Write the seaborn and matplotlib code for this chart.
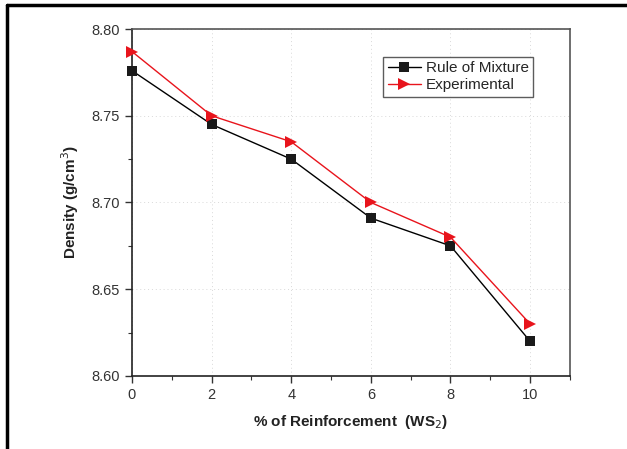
import matplotlib
matplotlib.use("Agg")
import matplotlib.pyplot as plt
import seaborn as sns
import pandas as pd
from matplotlib.ticker import MultipleLocator, FormatStrFormatter
from matplotlib.lines import Line2D

reinforcement = [0, 2, 4, 6, 8, 10]
rule_of_mixture = [8.776, 8.745, 8.725, 8.691, 8.675, 8.620]
experimental = [8.787, 8.750, 8.735, 8.700, 8.680, 8.630]

sns.set_style("white")
plt.rcParams['font.family'] = ['Liberation Sans', 'DejaVu Sans']

fig = plt.figure(figsize=(6.27, 4.49), dpi=100)
ax = fig.add_axes([0.2105, 0.1626, 0.6985, 0.7728])

df_rom = pd.DataFrame({"x": reinforcement, "y": rule_of_mixture})
df_exp = pd.DataFrame({"x": reinforcement, "y": experimental})

sns.lineplot(data=df_rom, x="x", y="y", ax=ax, color="black", lw=1.0,
             marker="s", markersize=7, markeredgewidth=0, markerfacecolor="#1a1a1a",
             label="Rule of Mixture", clip_on=False, zorder=3)
sns.lineplot(data=df_exp, x="x", y="y", ax=ax, color="#e8141c", lw=1.0,
             marker=">", markersize=9, markeredgewidth=0, markerfacecolor="#e8141c",
             label="Experimental", clip_on=False, zorder=3)

ax.set_xlim(0, 11)
ax.set_ylim(8.60, 8.80)
ax.xaxis.set_major_locator(MultipleLocator(2))
ax.xaxis.set_minor_locator(MultipleLocator(1))
ax.yaxis.set_major_locator(MultipleLocator(0.05))
ax.yaxis.set_minor_locator(MultipleLocator(0.025))
ax.yaxis.set_major_formatter(FormatStrFormatter('%.2f'))

ax.grid(True, which='major', linestyle=(0, (1, 3)), color='#d9d9d9', lw=0.7)
ax.set_axisbelow(True)

for s in ax.spines.values():
    s.set_color('#555555')
    s.set_linewidth(1.2)
ax.spines['left'].set_color('#222222')
ax.spines['bottom'].set_color('#222222')

ax.tick_params(which='major', direction='out', length=5, width=1, colors='#333333',
               labelsize=10.5, labelcolor='#333333', bottom=True, left=True)
ax.tick_params(which='minor', direction='out', length=3, width=0.8, colors='#333333',
               bottom=True, left=True)

ax.set_xlabel("% of Reinforcement  (WS$_2$)", fontsize=11, fontweight='bold', labelpad=8, color='#222222')
ax.set_ylabel("Density (g/cm$^3$)", fontsize=11, fontweight='bold', labelpad=8, color='#222222')

leg = ax.legend(loc='upper left', bbox_to_anchor=(0.573, 0.92), frameon=True, fancybox=False,
                fontsize=11, handlelength=2.2, handletextpad=0.3, borderpad=0.3,
                labelspacing=0.2, borderaxespad=0)
leg.get_frame().set_edgecolor('#333333')
leg.get_frame().set_linewidth(1.0)

# partial outer frame (top and left) as in the reference
fig.add_artist(Line2D([0.0112, 1.0], [0.9889, 0.9889], transform=fig.transFigure, color='black', lw=2.5))
fig.add_artist(Line2D([0.0112, 0.0112], [0.0, 0.9889], transform=fig.transFigure, color='black', lw=2.5))

fig.savefig("out.png", dpi=100)
